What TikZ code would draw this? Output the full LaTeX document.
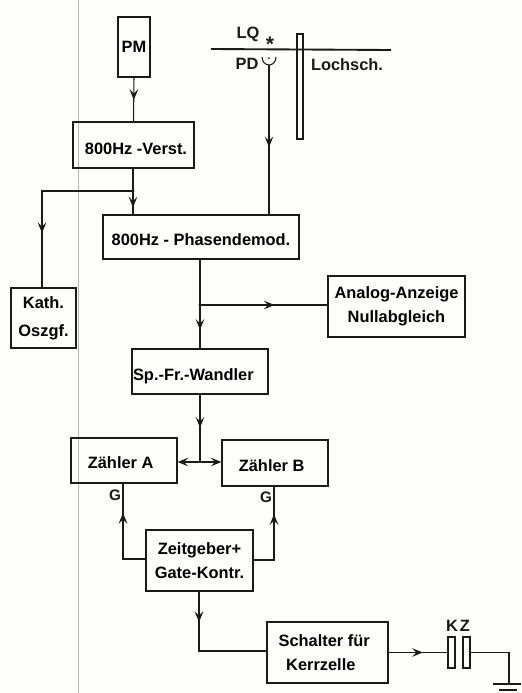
\documentclass[tikz,border=0pt]{standalone}
\usepackage{fontspec}
\setmainfont{Liberation Sans}
\usetikzlibrary{arrows.meta,positioning,calc,decorations.markings}
\definecolor{paper}  {HTML}{FDFDFB}
\definecolor{ink}    {HTML}{1A1A1A}
\definecolor{fold}   {HTML}{B4B4B4}
\newcommand{\lowtext}[2]{\raisebox{#1}[0pt][0pt]{#2}}
\tikzset{
  >={Stealth[length=3.2mm,width=2.6mm,inset=1.3mm]},
  blockbox/.style ={draw=ink, line width=1.1pt, inner sep=0pt, align=center,
                    font=\fontsize{14}{20.4}\selectfont\bfseries},
  platebox/.style ={draw=ink, line width=1.0pt, inner sep=0pt, minimum width=0.21cm},
  tagtext/.style  ={inner sep=0pt, text=ink, font=\fontsize{14}{16}\selectfont\bfseries},
  wire/.style     ={draw=ink, line width=0.9pt},
  midarr/.style   ={wire, postaction={decorate}, decoration={markings,
                    mark=at position #1 with {\arrow{>}}}},
}
\begin{document}
\begin{tikzpicture}[x=0.03cm,y=-0.03cm]
        \useasboundingbox[fill=paper] (0,0) rectangle (521,693);
        \coordinate (foldtop) at (78,0);
        \coordinate (foldbot) at (78,693);
        \draw[fold,line width=0.5pt] (foldtop) -- (foldbot);

        % blocks
        \node[blockbox,minimum width=0.96cm,minimum height=1.8cm]  (pm)      at (134,47)      {PM};
        \node[blockbox,minimum width=3.63cm,minimum height=1.38cm] (verst)   at (133.5,145)   {\lowtext{-8.5pt}{800Hz -Verst.}\hspace*{-0.15cm}};
        \node[blockbox,minimum width=5.88cm,minimum height=1.32cm] (phasen)  at (201,237)     {\lowtext{-7.6pt}{800Hz - Phasendemod.}};
        \node[blockbox,minimum width=1.95cm,minimum height=1.8cm,font=\fontsize{14}{24}\selectfont\bfseries] (kath) at (43.5,318) {Kath.\\Oszgf.};
        \node[blockbox,minimum width=4.11cm,minimum height=1.83cm] (analog)  at (396.5,306.5) {Analog-Anzeige\\Nullabgleich};
        \node[blockbox,minimum width=4.08cm,minimum height=1.35cm] (wandler) at (200,371.5)   {\lowtext{-8pt}{Sp.-Fr.-Wandler}\hspace*{0.4cm}};
        \node[blockbox,minimum width=3.18cm,minimum height=1.35cm] (zaehlera) at (124,460.5)  {\lowtext{-7.2pt}{Zähler A}\hspace*{0.2cm}};
        \node[blockbox,minimum width=3.18cm,minimum height=1.38cm] (zaehlerb) at (275,463)    {\lowtext{-7.2pt}{Zähler B}\hspace*{0.2cm}};
        \node[blockbox,minimum width=3.21cm,minimum height=1.83cm] (zeit)    at (199.5,560.5) {Zeitgeber+\\Gate-Kontr.};
        \node[blockbox,minimum width=3.63cm,minimum height=1.83cm] (schalter) at (327.5,652.5) {Schalter für\hspace*{0.2cm}\\Kerrzelle\hspace*{0.4cm}};

        % light path at the top
        \coordinate (barl) at (211,49);
        \coordinate (barr) at (391,50);
        \draw[ink,line width=1.6pt] (barl) -- (barr);
        \node[platebox,minimum width=0.18cm,minimum height=3.15cm] (rod) at (300,86.5) {};
        \node[tagtext] (lq) at (248,34) {LQ};
        \node[tagtext,font=\fontsize{18}{18}\selectfont\bfseries] (star) at (270,44) {*};
        \node[tagtext] (pd) at (247,64) {PD};
        \node[tagtext] (loch) at (347,65) {Lochsch.};
        \coordinate (cup) at (269,65);
        \draw[wire] (262,57) arc[start angle=180,end angle=360,x radius=7,y radius=-8];
        \fill[ink] (269,58) circle[radius=1];

        % connectors
        \draw[midarr=0.51] (pm.south) -- (verst.north);
        \coordinate (jverst) at (133,191);
        \coordinate (jwand) at (200,305);
        \coordinate (jkath) at (42,191);
        \fill[ink] (jverst) circle[radius=1.7];
        \fill[ink] (jwand) circle[radius=1.7];
        \draw[wire] (verst.south -| jverst) -- (jverst);
        \draw[midarr=0.7] (jverst) -- (jverst |- phasen.north);
        \draw[midarr=0.71] (jverst) -- (jkath) -- (jkath |- kath.north);
        \draw[midarr=0.55] (cup) -- (cup |- phasen.north);
        \draw[wire] (phasen.south -| jwand) -- (jwand);
        \draw[midarr=0.57] (jwand) -- (wandler.north -| jwand);
        \draw[midarr=0.585] (jwand) -- (analog.west |- jwand);

        \coordinate (jzaehl) at (200,462);
        \draw[midarr=0.49] (wandler.south -| jzaehl) -- (jzaehl);
        \draw[wire,<->] (zaehlera.east |- jzaehl) -- (zaehlerb.west |- jzaehl);

        \coordinate (ga) at (123,559);
        \coordinate (gb) at (274,560);
        \draw[midarr=0.7] (zeit.west |- ga) -- (ga) -- (ga |- zaehlera.south);
        \draw[midarr=0.705] (zeit.east |- gb) -- (gb) -- (gb |- zaehlerb.south);
        \node[tagtext,font=\fontsize{13}{14}\selectfont\bfseries] (labga) at (115,495) {G};
        \node[tagtext,font=\fontsize{13}{14}\selectfont\bfseries] (labgb) at (266,497) {G};

        \coordinate (jschalt) at (199,651);
        \draw[midarr=0.24] (zeit.south -| jschalt) -- (jschalt) -- (schalter.west |- jschalt);

        % Kerr cell and earth
        \node[platebox,minimum height=0.93cm] (kza) at (451.5,652.5) {};
        \node[platebox,minimum height=0.93cm] (kzb) at (466.5,652.5) {};
        \node[tagtext] (lk) at (452,626) {K};
        \node[tagtext] (lz) at (465,626) {Z};
        \draw[midarr=0.58] (schalter.east) -- (kza.west);
        \coordinate (gnd) at (509,684);
        \draw[wire] (kzb.east) -| (gnd);
        \draw[ink,line width=1.2pt] (493,684) -- (521,684);
        \draw[ink,line width=1.2pt] (499,690) -- (517,690);
\end{tikzpicture}
\end{document}
